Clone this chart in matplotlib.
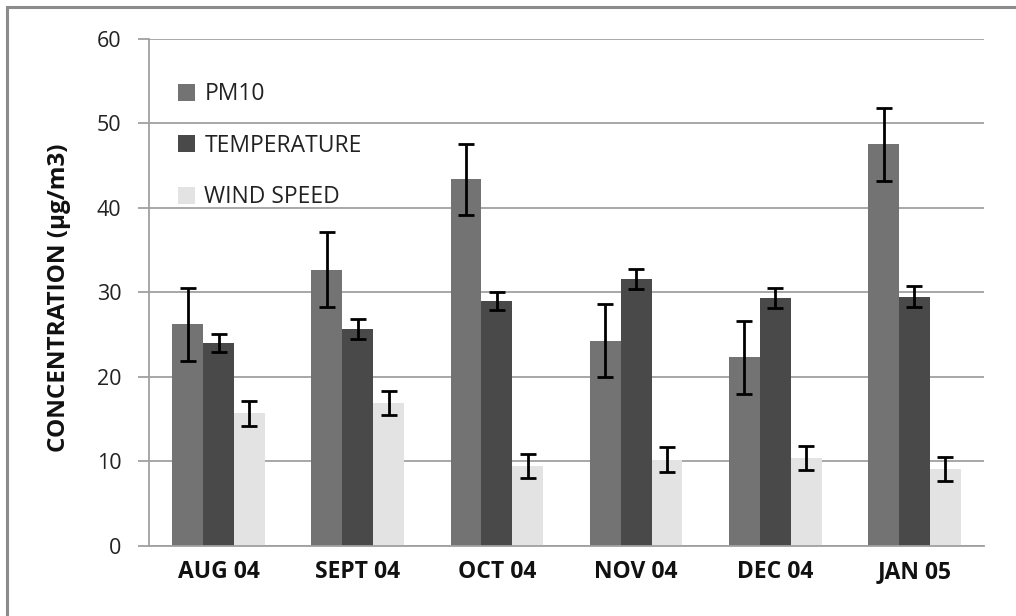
import matplotlib
matplotlib.use('Agg')
import matplotlib.pyplot as plt
from matplotlib.patches import Rectangle
import numpy as np

# monthly means and their standard errors
months = ['AUG 04', 'SEPT 04', 'OCT 04', 'NOV 04', 'DEC 04', 'JAN 05']
pm10 = [26.2, 32.7, 43.4, 24.3, 22.3, 47.5]
pm10_err = [4.3, 4.4, 4.2, 4.3, 4.3, 4.3]
temperature = [24.0, 25.7, 29.0, 31.6, 29.3, 29.5]
temperature_err = [1.1, 1.2, 1.1, 1.2, 1.2, 1.2]
wind_speed = [15.7, 16.9, 9.5, 10.2, 10.4, 9.1]
wind_speed_err = [1.5, 1.4, 1.4, 1.5, 1.4, 1.4]

series = [
    ('PM10', pm10, pm10_err, '#737373'),
    ('TEMPERATURE', temperature, temperature_err, '#494949'),
    ('WIND SPEED', wind_speed, wind_speed_err, '#e3e3e3'),
]

plt.rcParams['font.family'] = ['Open Sans', 'DejaVu Sans']

fig = plt.figure(figsize=(10.16, 6.16), dpi=100)
fig.patch.set_facecolor('white')
# thin gray frame round the whole chart
fig.add_artist(Rectangle((7 / 1016, -0.05), 1.1, 1 - 7 / 616 + 0.05,
                         transform=fig.transFigure, fill=False,
                         edgecolor='#8c8c8c', linewidth=2.2))

ax = fig.add_axes([149 / 1016, 1 - 546 / 616, (984 - 149) / 1016, (546 - 38.7) / 616])

x = np.arange(len(months))
width = 0.222
for i, (name, vals, errs, color) in enumerate(series):
    pos = x + (i - 1) * width
    ax.bar(pos, vals, width, color=color, label=name, zorder=2)
    ax.errorbar(pos, vals, yerr=errs, fmt='none', ecolor='black',
                elinewidth=2, capsize=5.5, capthick=2, zorder=3)

ax.set_xlim(-0.5, len(months) - 0.5)
ax.set_ylim(0, 60)
ax.set_yticks(range(0, 61, 10))
ax.set_xticks(x)
ax.set_xticklabels(months, fontsize=16.5, fontweight='bold', color='#111111')
ax.tick_params(axis='x', length=0, pad=10)
ax.tick_params(axis='y', length=8, width=1.3, color='#a0a0a0',
               labelsize=15.5, labelcolor='#222222', pad=12)
ax.yaxis.grid(True, color='#a0a0a0', linewidth=1.3, zorder=0)
ax.set_axisbelow(True)

for side in ['top', 'right']:
    ax.spines[side].set_visible(False)
for side in ['left', 'bottom']:
    ax.spines[side].set_color('#a0a0a0')
    ax.spines[side].set_linewidth(1.3)

ax.set_ylabel('CONCENTRATION (µg/m3)', fontsize=17.5, fontweight='bold',
              color='#111111')
ax.yaxis.set_label_coords(-0.094, 0.49)

ax.legend(loc='upper left', bbox_to_anchor=(0.01, 0.955), frameon=False,
          fontsize=16.5, handlelength=0.75, handleheight=0.75, handletextpad=0.4,
          labelspacing=1.2, labelcolor='#222222')

fig.savefig('out.png', dpi=100, facecolor='white')
